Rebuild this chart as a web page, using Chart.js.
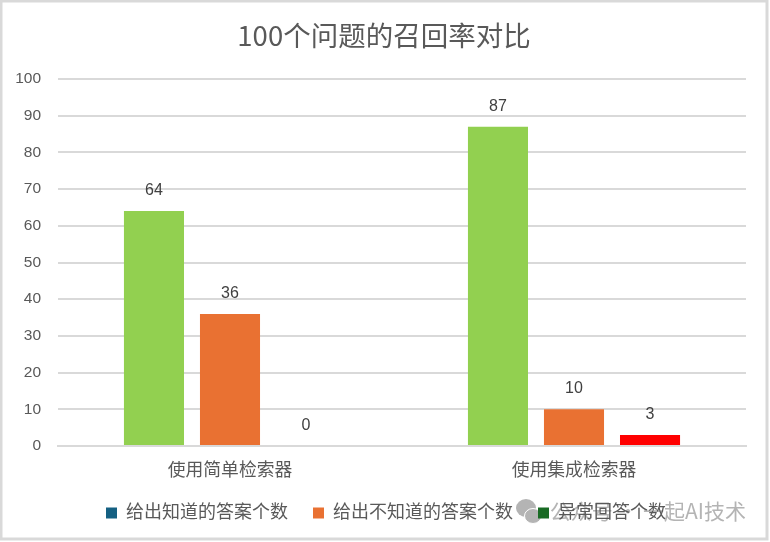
<!DOCTYPE html>
<html>
<head>
<meta charset="utf-8">
<style>
  html, body { margin: 0; padding: 0; background: #fff; }
  canvas { display: block; }
</style>
<script src="https://cdn.jsdelivr.net/npm/chart.js@4"></script>
</head>
<body>
<canvas id="grafico" width="770" height="542"></canvas>
<script>
const categorias = ["使用简单检索器", "使用集成检索器"];
const conocidas = [64, 87];
const desconocidas = [36, 10];
const anomalas = [0, 3];
const series = ["给出知道的答案个数", "给出不知道的答案个数", "异常回答个数"];
const coloresBarra = ["#92d050", "#e97132", "#ff0000"];
const coloresLeyenda = ["#156082", "#e97132", "#196b24"];
const ticksY = [0, 10, 20, 30, 40, 50, 60, 70, 80, 90, 100];
const titulo = "100个问题的召回率对比";
const marcaAgua = "公众号 · 一起AI技术";

const fuente = '"Liberation Sans", "Noto Sans CJK SC", sans-serif';

// marco gris y marca de agua (debajo de la leyenda)
const marco = {
  id: "marco",
  afterLayout(chart) {
    // titulo y leyenda van centrados en todo el lienzo, no en el area del grafico
    chart.titleBlock.left = 11;
    chart.titleBlock.right = 757;
    chart.legend.left = 13;
    chart.legend.right = 759;
  },
  beforeDraw(chart) {
    const c = chart.ctx;
    c.save();
    c.fillStyle = "#ffffff";
    c.fillRect(0, 0, chart.width, chart.height);
    c.strokeStyle = "#d9d9d9";
    c.lineWidth = 3;
    c.strokeRect(1, 1, chart.width - 4, chart.height - 4);
    c.fillStyle = "#b4b4b4";
    c.beginPath();
    c.ellipse(526, 508, 10, 9, 0, 0, Math.PI * 2);
    c.fill();
    c.beginPath();
    c.strokeStyle = "#ffffff";
    c.lineWidth = 1;
    c.ellipse(533, 516, 8.5, 7.5, 0, 0, Math.PI * 2);
    c.fill();
    c.stroke();
    c.font = '21px "Noto Sans CJK SC", sans-serif';
    c.textBaseline = "middle";
    c.textAlign = "right";
    c.fillText(marcaAgua, 746, 511);
    c.restore();
  },
};

// etiquetas de valor sobre cada barra
const etiquetas = {
  id: "etiquetas",
  afterDatasetsDraw(chart) {
    const c = chart.ctx;
    c.save();
    c.font = "16px " + fuente;
    c.fillStyle = "#404040";
    c.textAlign = "center";
    c.textBaseline = "middle";
    chart.data.datasets.forEach((d, i) => {
      chart.getDatasetMeta(i).data.forEach((bar, j) => {
        c.fillText(d.data[j], bar.x, bar.y - 20.5);
      });
    });
    c.restore();
  },
};

new Chart(document.getElementById("grafico").getContext("2d"), {
  type: "bar",
  data: {
    labels: categorias,
    datasets: [conocidas, desconocidas, anomalas].map((valores, i) => ({
      label: series[i],
      data: valores,
      backgroundColor: coloresBarra[i],
      barPercentage: 0.79,
      categoryPercentage: 0.663,
    })),
  },
  options: {
    responsive: false,
    animation: false,
    layout: { padding: { left: 0, right: 24, top: 0, bottom: 10 } },
    scales: {
      x: {
        grid: { display: false },
        border: { color: "#d9d9d9", width: 2 },
        ticks: { color: "#595959", font: { size: 17.8, family: fuente }, padding: 6, maxRotation: 0 },
        afterFit(scale) { scale.height = 33; },
      },
      y: {
        min: 0,
        max: 100,
        afterBuildTicks(scale) { scale.ticks = ticksY.map((v) => ({ value: v })); },
        grid: { color: "#d9d9d9", lineWidth: 2, drawTicks: false },
        border: { display: false },
        ticks: { color: "#595959", font: { size: 15.5, family: fuente }, padding: 17 },
        afterFit(scale) { scale.width = 58; },
      },
    },
    plugins: {
      title: {
        display: true,
        text: titulo,
        color: "#595959",
        font: { size: 27.5, weight: "normal", family: '"Noto Sans CJK SC", sans-serif' },
        padding: { top: 19, bottom: 27 },
      },
      legend: {
        position: "bottom",
        labels: {
          boxWidth: 11,
          boxHeight: 11,
          padding: 25,
          font: { size: 18, family: fuente },
          generateLabels: () =>
            series.map((s, i) => ({
              text: s,
              fillStyle: coloresLeyenda[i],
              strokeStyle: coloresLeyenda[i],
              fontColor: "#595959",
              lineWidth: 0,
              datasetIndex: i,
            })),
        },
      },
      tooltip: { enabled: false },
    },
  },
  plugins: [marco, etiquetas],
});
</script>
</body>
</html>
